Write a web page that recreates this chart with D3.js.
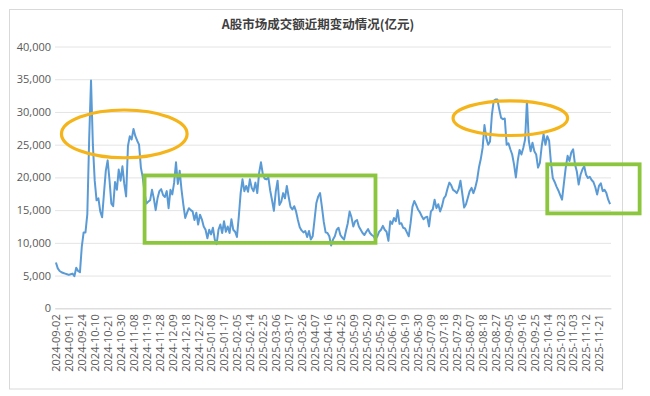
<!DOCTYPE html>
<html>
<head>
<meta charset="utf-8">
<script src="https://cdn.jsdelivr.net/npm/d3@7"></script>
<style>
  body { margin: 0; background: #fff; }
  svg text { font-family: "Open Sans", "Noto Sans CJK SC", sans-serif; }
</style>
</head>
<body>
<svg id="chart" width="650" height="396"></svg>
<script>
// tick labels on the category axis (every 7th trading day)
const tickLabels = [
  "2024-09-02", "2024-09-11", "2024-09-24", "2024-10-10", "2024-10-21", "2024-10-30",
  "2024-11-08", "2024-11-19", "2024-11-28", "2024-12-09", "2024-12-18", "2024-12-27",
  "2025-01-08", "2025-01-17", "2025-02-05", "2025-02-14", "2025-02-25", "2025-03-06",
  "2025-03-17", "2025-03-26", "2025-04-07", "2025-04-16", "2025-04-25", "2025-05-09",
  "2025-05-20", "2025-05-29", "2025-06-10", "2025-06-19", "2025-06-30", "2025-07-09",
  "2025-07-18", "2025-07-29", "2025-08-07", "2025-08-18", "2025-08-27", "2025-09-05",
  "2025-09-16", "2025-09-25", "2025-10-14", "2025-10-23", "2025-11-03", "2025-11-12",
  "2025-11-21"
];
const tickStep = 7;

// daily turnover (亿元), one row per tick interval
const turnover = [
  7000, 6100, 5700, 5500, 5400, 5300, 5200,
  5100, 5200, 5300, 4900, 6200, 5700, 5500,
  9400, 11600, 11600, 14400, 25900, 34800, 25000,
  19500, 16500, 16800, 14800, 13900, 17500, 21000,
  22600, 19600, 16000, 15600, 19300, 18100, 21200,
  19500, 21700, 19000, 17100, 24800, 26300, 25800,
  27400, 26300, 25600, 25000, 21500, 20000, 17600,
  16000, 16300, 16500, 18100, 16800, 15000, 16800,
  17900, 18200, 17300, 17000, 17900, 15300, 18100,
  17400, 19200, 22300, 19000, 21000, 18100, 15800,
  13800, 14600, 15300, 15000, 14800, 13500, 14600,
  12800, 14300, 13600, 12500, 12000, 10700, 12000,
  11300, 12300, 10500, 9800, 12000, 12800, 11500,
  13300, 11700, 12500, 11500, 13600, 12000, 11700,
  10900, 14000, 17600, 19700, 17900, 18700, 17800,
  19700, 18400, 17900, 19200, 17600, 20700, 22300,
  20500, 19800, 19700, 20000, 18000, 16500, 14900,
  17800, 19500, 15800, 16300, 17600, 16800, 18700,
  17000, 15500, 15100, 15600, 14800, 13500, 12400,
  11900, 11600, 11800, 10900, 11800, 10500, 11000,
  13500, 16100, 17100, 17600, 15500, 13200, 11600,
  11500, 11000, 9600, 10500, 11000, 12000, 12300,
  11200, 10800, 10500, 11800, 13000, 14800, 13900,
  12500, 13300, 13500, 12500, 12000, 11500, 11200,
  11700, 12100, 11500, 11200, 11000, 10500, 11000,
  11700, 12000, 12600, 12000, 11700, 10300, 13300,
  12900, 13800, 13300, 15000, 12900, 13000, 12300,
  12200, 11600, 11000, 13000, 15500, 16400, 15800,
  15100, 14700, 14100, 13600, 13900, 14000, 12500,
  14800, 15100, 16600, 15300, 15900, 14800, 15600,
  16800, 17200, 18300, 19200, 18800, 18100, 17900,
  17600, 18200, 19500, 17500, 15400, 15900, 16900,
  17900, 18400, 17600, 18400, 19600, 21500, 22800,
  24500, 28000, 26000, 25000, 25500, 29500, 31700,
  31900, 31900, 30400, 29100, 28900, 29000, 25000,
  25200, 24300, 23500, 22000, 20000, 22500, 24200,
  23500, 24500, 25800, 31700, 25600, 24000, 25300,
  24000, 23500, 21500, 22200, 24800, 26600, 25000,
  26300, 25600, 22200, 19900, 19300, 18600, 18000,
  17300, 16600, 19100, 21500, 23300, 22500, 23800,
  24300, 22000, 20900, 18900, 20400, 21200, 21700,
  20400, 19900, 20100, 19600, 19300, 18500, 17400,
  18700, 19100, 17900, 18100, 17600, 16600, 15900
];

const yTicks = [0, 5000, 10000, 15000, 20000, 25000, 30000, 35000, 40000];
const title = "A股市场成交额近期变动情况(亿元)";

// annotation marks, in data terms: [first index, last index, low value, high value]
const ovalMarks = [[3, 71, 23000, 30300], [215, 277, 26400, 31700]];
const boxMarks = [[48, 173, 10000, 20300], [266, 316, 14500, 22000]];

const svg = d3.select("#chart");
const plotLeft = 55, plotRight = 611, plotTop = 46.5, plotBottom = 308.3;

svg.append("rect")
  .attr("x", 9.5).attr("y", 9.5)
  .attr("width", 613).attr("height", 379.5)
  .attr("fill", "#fff").attr("stroke", "#d9d9d9");

const x = d3.scalePoint()
  .domain(d3.range(turnover.length))
  .range([plotLeft, plotRight])
  .padding(0.5);
const step = x.step();
const xPos = i => x(0) + i * step;

const y = d3.scaleLinear().domain([0, 40000]).range([plotBottom, plotTop]);

// gridlines + y labels
const yAxis = svg.append("g")
  .attr("transform", `translate(${plotLeft},0)`)
  .call(d3.axisLeft(y).tickValues(yTicks).tickFormat(d3.format(",")).tickSize(-(plotRight - plotLeft)).tickPadding(4));
yAxis.select(".domain").remove();
yAxis.selectAll(".tick line").attr("stroke", "#e4e4e4");
yAxis.selectAll("text").attr("fill", "#595959").style("font-size", "11px");

// category axis
const xAxis = svg.append("g")
  .attr("transform", `translate(0,${plotBottom})`)
  .call(d3.axisBottom(x)
    .tickValues(d3.range(0, turnover.length, tickStep))
    .tickFormat(i => tickLabels[i / tickStep])
    .tickSize(0));
xAxis.select(".domain").attr("stroke", "#d9d9d9");
xAxis.selectAll("text")
  .attr("transform", "rotate(-90)")
  .attr("x", -6).attr("y", 0).attr("dy", "0.35em")
  .style("text-anchor", "end")
  .style("font-size", "11px")
  .attr("fill", "#595959");

// title
svg.append("text")
  .attr("x", 318).attr("y", 29)
  .attr("text-anchor", "middle")
  .style("font-family", "'Noto Sans CJK SC', sans-serif")
  .style("font-size", "12.5px")
  .style("font-weight", "bold")
  .attr("fill", "#404040")
  .text(title);

// line
svg.append("path")
  .datum(turnover)
  .attr("fill", "none")
  .attr("stroke", "#5b9bd5")
  .attr("stroke-width", 2)
  .attr("stroke-linejoin", "round")
  .attr("d", d3.line().x((d, i) => x(i)).y(d => y(d)));

// orange ovals
svg.selectAll(".oval")
  .data(ovalMarks)
  .enter()
  .append("ellipse")
  .attr("class", "oval")
  .attr("cx", d => (xPos(d[0]) + xPos(d[1])) / 2)
  .attr("cy", d => (y(d[2]) + y(d[3])) / 2)
  .attr("rx", d => (xPos(d[1]) - xPos(d[0])) / 2)
  .attr("ry", d => (y(d[2]) - y(d[3])) / 2)
  .attr("fill", "none")
  .attr("stroke", "#f4b41a")
  .attr("stroke-width", 3.2);

// green boxes
svg.selectAll(".box")
  .data(boxMarks)
  .enter()
  .append("rect")
  .attr("class", "box")
  .attr("x", d => xPos(d[0]))
  .attr("y", d => y(d[3]))
  .attr("width", d => xPos(d[1]) - xPos(d[0]))
  .attr("height", d => y(d[2]) - y(d[3]))
  .attr("fill", "none")
  .attr("stroke", "#8cc63e")
  .attr("stroke-width", 3.8);
</script>
</body>
</html>
